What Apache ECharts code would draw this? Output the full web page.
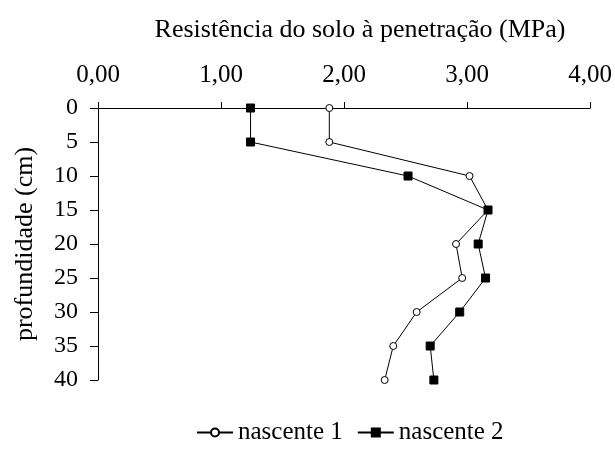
<!DOCTYPE html>
<html>
<head>
<meta charset="utf-8">
<script src="https://cdn.jsdelivr.net/npm/echarts@6/dist/echarts.min.js"></script>
<style>
html,body{margin:0;padding:0;background:#fff;}
#chart{width:615px;height:452px;}
</style>
</head>
<body>
<div id="chart"></div>
<script>
// profundidade (cm)
var profundidade = [0, 5, 10, 15, 20, 25, 30, 35, 40];
// resistencia (MPa)
var nascente1 = [1.88, 1.88, 3.02, 3.17, 2.91, 2.96, 2.59, 2.40, 2.33];
var nascente2 = [1.24, 1.24, 2.52, 3.17, 3.09, 3.15, 2.94, 2.70, 2.73];
var nomes = ['nascente 1', 'nascente 2'];

function pares(xs){
  return xs.map(function(v, i){ return [v, profundidade[i]]; });
}

function initChart(){
  var chart = echarts.init(document.getElementById('chart'));
  var fonte = 'Liberation Serif';
  var option = {
    animation: false,
    textStyle: {fontFamily: fonte, color: '#000'},
    title: {
      text: 'Resistência do solo à penetração (MPa)',
      left: 355, top: 12, textAlign: 'center',
      textStyle: {fontFamily: fonte, fontSize: 26, fontWeight: 'normal', color: '#000'}
    },
    legend: {
      data: nomes,
      orient: 'horizontal',
      bottom: 2, left: 191, width: 420,
      itemWidth: 36, itemHeight: 10, itemGap: 14,
      textStyle: {fontFamily: fonte, fontSize: 25, color: '#000'}
    },
    grid: {left: 98, top: 108, right: 24, bottom: 72},
    xAxis: {
      type: 'value', position: 'top',
      min: 0, max: 4, interval: 1,
      axisLine: {lineStyle: {color: '#000', width: 1}},
      axisTick: {show: true, length: 6, lineStyle: {color: '#000'}},
      splitLine: {show: false},
      axisLabel: {
        fontFamily: fonte, fontSize: 25, color: '#000', margin: 20,
        formatter: function(v){ return v.toFixed(2).replace('.', ','); }
      }
    },
    yAxis: {
      type: 'value', inverse: true,
      min: 0, max: 40, interval: 5,
      name: 'profundidade (cm)', nameLocation: 'middle', nameGap: 60,
      nameTextStyle: {fontFamily: fonte, fontSize: 26, color: '#000'},
      axisLine: {onZero: false, lineStyle: {color: '#000', width: 1}},
      axisTick: {show: true, length: 8, lineStyle: {color: '#000'}},
      splitLine: {show: false},
      axisLabel: {fontFamily: fonte, fontSize: 24, color: '#000', margin: 20}
    },
    series: [
      {
        name: nomes[0], type: 'line',
        data: pares(nascente1),
        symbol: 'circle', symbolSize: 7,
        lineStyle: {color: '#000', width: 1},
        itemStyle: {color: '#fff', borderColor: '#000', borderWidth: 1}
      },
      {
        name: nomes[1], type: 'line',
        data: pares(nascente2),
        symbol: 'rect', symbolSize: 8,
        lineStyle: {color: '#000', width: 1},
        itemStyle: {color: '#000', borderColor: '#000', borderWidth: 1}
      }
    ]
  };
  chart.setOption(option);
}

initChart();
</script>
</body>
</html>
